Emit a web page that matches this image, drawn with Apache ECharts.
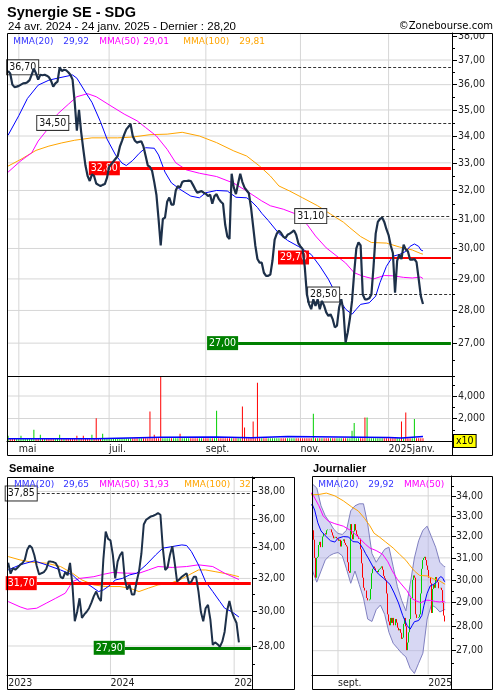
<!DOCTYPE html>
<html>
<head>
<meta charset="utf-8">
<script src="https://cdn.jsdelivr.net/npm/echarts@6.0.0/dist/echarts.min.js"></script>
<style>html,body{margin:0;padding:0;background:#fff;}#chart{width:500px;height:700px;}</style>
</head>
<body>
<div id="chart"></div>
<script>
// ================= DATA =================
const HOLIDAYS = ['2024-05-01','2024-12-25','2024-12-26','2025-01-01'];

// daily closes 24 avr. 2024 -> 24 janv. 2025 (194 sessions)
const closes = [
36.55,36.45,36.0,35.9,35.92,35.95,36.0,36.05,36.06,36.1,
36.18,36.4,36.65,36.45,36.2,36.4,36.38,36.4,36.36,36.3,
36.15,35.92,36.05,36.12,36.7,36.55,36.6,36.58,36.5,36.4,
36.2,35.3,34.2,35.0,34.15,33.5,32.9,32.52,32.34,32.58,
32.52,32.25,32.2,32.16,32.2,32.23,32.45,32.85,32.95,33.05,
33.15,33.25,33.6,33.82,34.05,34.25,34.35,34.45,34.0,33.82,
33.75,33.78,33.8,33.6,33.25,32.9,32.85,32.7,32.3,31.85,
31.0,30.1,31.0,31.05,31.6,31.75,31.5,31.5,32.0,32.16,
32.1,32.3,32.34,32.34,32.35,32.34,32.2,32.05,31.92,31.95,
31.98,31.92,31.88,31.8,31.85,31.53,31.8,31.87,31.7,31.6,
31.53,30.8,30.4,30.32,32.6,32.1,31.87,32.25,32.6,32.3,
32.1,32.0,31.9,31.4,30.75,30.1,29.65,29.53,29.53,29.2,
29.1,29.1,29.14,29.6,30.3,30.5,30.6,30.52,30.4,30.35,
30.46,30.5,30.55,30.61,30.46,30.18,30.07,29.98,29.4,28.5,
28.2,28.04,28.35,28.14,28.35,28.04,28.3,28.15,27.94,27.83,
27.88,27.73,27.48,27.53,28.1,28.35,28.0,27.02,27.33,27.75,
28.3,29.2,30.0,30.2,30.1,28.5,28.35,28.35,28.38,28.5,
29.4,30.5,30.9,31.0,31.05,30.9,30.65,30.45,30.1,29.85,
28.56,29.6,29.8,29.65,30.13,29.96,29.9,29.63,29.63,29.65,
29.55,29.0,28.45,28.2];

// moving averages: [session index, value]
const mma20 = [[0,34.03],[5,34.78],[9,35.45],[14,35.98],[19,36.18],[23,36.26],[30,36.39],[32,36.26],[36,35.7],[39,35.3],[43,34.54],[46,33.89],[50,33.29],[53,32.99],[55,32.9],[58,33.09],[61,33.35],[64,33.56],[68,33.54],[70,33.29],[73,32.66],[76,32.27],[80,32.04],[85,31.8],[89,31.74],[92,31.92],[97,32.0],[102,31.98],[106,31.76],[111,31.74],[113,31.63],[116,31.4],[118,31.2],[121,30.95],[126,30.5],[130,30.27],[135,30.07],[141,29.8],[145,29.42],[149,28.99],[153,28.45],[157,28.04],[160,27.88],[162,28.04],[164,28.19],[168,28.24],[171,28.45],[173,28.88],[176,29.41],[179,29.74],[182,29.8],[185,29.9],[187,30.07],[189,30.15],[191,30.07],[192,29.95],[193,29.92]];
const mma50 = [[0,32.66],[6,33.08],[11,33.37],[14,33.81],[19,34.32],[23,34.84],[28,35.22],[32,35.52],[37,35.64],[41,35.52],[47,35.2],[54,34.84],[60,34.58],[64,34.32],[69,34.0],[74,33.5],[78,33.0],[83,32.74],[89,32.62],[97,32.5],[105,32.26],[111,31.98],[118,31.63],[122,31.46],[128,31.34],[134,31.17],[139,30.82],[143,30.42],[148,30.02],[157,29.52],[161,29.2],[165,29.09],[170,29.0],[175,29.11],[179,29.1],[184,29.05],[188,29.03],[192,29.06],[193,29.01]];
const mma100 = [[0,32.88],[6,33.13],[13,33.46],[19,33.62],[25,33.74],[31,33.84],[39,33.93],[51,33.93],[58,33.96],[66,34.05],[74,34.07],[81,34.14],[89,34.0],[97,33.75],[105,33.44],[111,33.25],[117,32.88],[122,32.52],[126,32.16],[131,31.98],[137,31.74],[144,31.46],[150,31.17],[156,30.89],[159,30.7],[164,30.4],[169,30.2],[176,30.18],[182,30.05],[188,29.95],[192,29.83],[193,29.81]];

// volumes (x10)
const volumes = [
470,250,250,250,250,250,470,250,250,250,
250,250,1000,250,250,560,250,250,250,250,
250,250,250,250,560,250,250,250,250,250,
250,250,470,250,250,470,250,250,250,560,
250,2030,250,250,650,250,250,250,250,250,
250,250,250,250,250,250,250,250,250,250,
250,250,250,250,250,250,2620,250,560,250,
250,6300,250,250,250,250,250,250,250,250,
650,250,250,250,250,250,250,250,250,250,
250,250,250,250,250,250,250,2680,250,250,
250,250,250,250,250,250,250,250,250,3060,
1200,250,250,250,1730,250,5190,250,250,250,
250,250,250,250,250,250,250,250,250,250,
250,250,250,250,250,250,250,250,250,250,
250,250,2420,250,250,250,250,250,250,250,
250,250,250,250,250,250,250,250,250,250,
910,1590,250,250,250,250,2090,2090,250,250,
250,250,250,250,250,250,250,250,250,250,
250,250,250,1730,250,2530,250,250,250,1950,
250,250,250,250];
const volAvg = [[0,200],[41,330],[71,360],[97,280],[113,400],[130,320],[177,270],[183,400],[193,400]];

// horizontal levels (main chart)
const mainLevels = [36.70, 34.50, 32.80, 31.10, 29.70, 28.50, 27.00];
const mainLevelKinds = ['dash','dash','red','dash','redThin','dash','green'];

// weekly chart
const weeklyCloses = [
33.0,32.3,32.65,32.55,32.7,32.87,32.98,33.2,33.86,34.15,
34.0,33.5,32.8,32.25,32.33,32.4,32.6,33.08,33.08,33.05,
32.98,32.7,32.1,32.0,32.4,32.2,33.0,31.6,29.4,29.96,
30.77,29.6,29.8,29.96,30.17,30.5,30.9,31.18,30.8,30.6,
33.2,35.1,34.6,34.5,33.52,32.0,33.08,33.5,33.73,32.0,
31.3,31.6,31.0,31.0,31.79,32.45,33.6,35.6,35.93,36.05,
36.17,36.22,36.3,36.41,36.29,34.0,32.54,32.7,33.52,34.1,
33.0,31.8,31.95,32.1,32.22,32.33,31.7,31.79,32.1,32.1,
31.18,29.96,29.4,30.17,30.37,29.5,28.06,28.2,28.1,27.96,
28.24,28.8,30.0,30.6,29.96,29.6,29.3,28.2];
const wMma20 = [[0,32.54],[5,32.87],[11,33.13],[16,32.87],[22,32.54],[27,32.22],[30,31.79],[34,31.59],[38,31.18],[40,31.28],[43,31.59],[45,31.9],[48,32.0],[51,32.22],[54,32.33],[58,32.87],[62,33.52],[65,33.97],[69,34.08],[73,34.19],[75,34.15],[77,33.75],[80,32.87],[83,31.79],[86,31.18],[89,30.57],[91,30.17],[94,29.96],[97,29.65]];
const wMma50 = [[0,30.57],[5,30.25],[8,30.11],[12,30.17],[16,30.47],[20,30.77],[24,31.08],[27,31.79],[30,32.0],[36,32.11],[40,32.26],[44,32.38],[50,32.33],[55,32.33],[59,32.54],[63,32.76],[69,32.7],[75,32.76],[80,32.87],[86,32.76],[91,32.33],[97,31.93]];
const wMma100 = [[0,33.41],[5,33.19],[10,33.04],[16,32.98],[22,32.76],[27,32.33],[31,31.9],[36,31.59],[41,31.49],[47,31.49],[51,31.39],[55,31.18],[59,31.39],[63,31.59],[68,31.69],[72,31.9],[76,32.22],[80,32.54],[83,32.54],[87,32.43],[93,32.26],[97,32.11]];
const weeklyLevels = [37.85, 31.70, 27.90];
const weeklyLevelKinds = ['dash','red','green'];

// daily panel: Bollinger band [session index, value]
const bbUpper = [[68,34.6],[72,34.4],[76,33.5],[80,33.0],[84,32.7],[88,32.35],[92,32.15],[96,32.1],[100,32.3],[104,33.25],[108,33.5],[112,33.6],[116,33.6],[120,32.6],[124,31.2],[128,30.8],[132,31.1],[136,31.4],[140,31.5],[144,30.6],[148,29.7],[152,29.1],[156,28.65],[160,29.8],[164,31.0],[168,31.8],[172,32.3],[176,32.5],[180,32.0],[184,31.5],[188,30.8],[192,30.6],[193,30.6]];
const bbLower = [[68,30.4],[72,29.9],[76,30.4],[80,30.9],[84,31.1],[88,31.2],[92,31.25],[96,31.1],[100,30.5],[104,29.85],[108,30.4],[112,29.8],[116,29.2],[120,28.3],[124,28.2],[128,28.7],[132,28.9],[136,28.5],[140,27.75],[144,27.3],[148,27.1],[152,26.9],[156,26.75],[160,26.3],[164,26.1],[168,26.5],[172,26.9],[176,28.3],[180,28.9],[184,28.8],[188,28.6],[192,28.7],[193,28.7]];

// tick labels
const mainPriceTicks = [27,28,29,30,31,32,33,34,35,36,37,38];
const mainPriceMinor = [26.5,27.5,28.5,29.5,30.5,31.5,32.5,33.5,34.5,35.5,36.5,37.5];
const volTicks = [2000,4000];
const weeklyPriceTicks = [28,30,32,34,36,38];
const weeklyPriceMinor = [27,29,31,33,35,37,39];
const dailyPriceTicks = [27,28,29,30,31,32,33,34];
const dailyPriceMinor = [26.5,27.5,28.5,29.5,30.5,31.5,32.5,33.5,34.5];
const mainTickDates = ['2024-05-02','2024-07-01','2024-09-02','2024-11-01','2025-01-02'];
const mainTickLabels = ['mai','juil.','sept.','nov.','2025janv.'];
const weeklyTickDates = ['2023-03-13','2024-01-08','2025-01-06'];
const weeklyTickLabels = ['2023','2024','2025'];
const dailyTickDates = ['2024-09-02','2025-01-02'];
const dailyTickLabels = ['sept.','2025'];

// ================= BUILD =================
function tradingDays(start, count){
  const out=[]; const d=new Date(start+'T00:00:00Z');
  while(out.length<count){
    const wd=d.getUTCDay(); const s=d.toISOString().slice(0,10);
    if(wd!==0 && wd!==6 && HOLIDAYS.indexOf(s)<0) out.push(s);
    d.setUTCDate(d.getUTCDate()+1);
  }
  return out;
}
function weekStarts(start, count){
  const out=[]; const d=new Date(start+'T00:00:00Z');
  for(let i=0;i<count;i++){ out.push(d.toISOString().slice(0,10)); d.setUTCDate(d.getUTCDate()+7); }
  return out;
}
const dailyCats = tradingDays('2024-04-24', 207);
const weeklyCats = weekStarts('2023-03-13', 103);

const fmtP = v => Number(v).toFixed(2).replace('.', ',');
const FONT_AX = "'DejaVu Sans Condensed','Liberation Sans',sans-serif";
const FONT_LG = "'DejaVu Sans',sans-serif";
const FONT_TT = "'Liberation Sans',Arial,sans-serif";
const COL = {price:'#1d3049', ma20:'#0000ff', ma50:'#ff00ff', ma100:'#ffa500', grid:'#d6d6d6', text:'#222', up:'#00d000', down:'#ff0000'};

const mainLevelStart = [13.8, 27.7, 51.6, 147.9, 139.5, 153.5, 106.6];
const mainLevelEnd = 206;
const weeklyLevelStart = [12.3, 12.3, 49.2];
const weeklyLevelEnd = 102;
const DAILY_FROM = 68, DAILY_TO = 198;

const KIND = {
  dash:{line:{color:'#333', type:[3,2], width:1}, label:{backgroundColor:'#fff', borderColor:'#333', borderWidth:1, color:'#111'}},
  red:{line:{color:'#ff0000', width:3, type:'solid'}, label:{backgroundColor:'#ff0000', color:'#fff'}},
  redThin:{line:{color:'#ff0000', width:2, type:'solid'}, label:{backgroundColor:'#ff0000', color:'#fff'}},
  green:{line:{color:'#008000', width:3, type:'solid'}, label:{backgroundColor:'#008000', color:'#fff'}}
};
function levelLines(vals, kinds, starts, end){
  return vals.map((v,i)=>{
    const k = KIND[kinds[i]];
    return [{coord:[starts[i], v], lineStyle:k.line,
      label:Object.assign({show:true, position:'start', distance:0, formatter:fmtP(v), fontSize:10.5, fontFamily:FONT_AX, padding:[2,2,1,2], lineHeight:11}, k.label)},
      {coord:[end, v]}];
  });
}
function dummy(xi, yi, z, markLine){
  return {type:'line', xAxisIndex:xi, yAxisIndex:yi, data:[], z:z, silent:true, markLine:markLine};
}
function line(xi, yi, data, color, width, z){
  return {type:'line', xAxisIndex:xi, yAxisIndex:yi, data:data, showSymbol:false, symbol:'none',
    lineStyle:{color:color, width:width}, itemStyle:{color:color}, z:z||2, silent:true, clip:true, connectNulls:true};
}
// grid lines: one two-point line series per tick, placed through the axes
function gridSeries(xi, yi, yTicks, xFrom, xTo, yLo, yHi, cats, tickDates){
  const out = yTicks.map(v=>line(xi, yi, [[xFrom, v],[xTo, v]], COL.grid, 1, 1));
  tickDates.forEach(t=>{ const k = cats.indexOf(t); if(k>0) out.push(line(xi, yi, [[k-0.5, yLo],[k-0.5, yHi]], COL.grid, 1, 1)); });
  return out;
}
function catX(grid, cats, tickDates, tickLabels, showLabels){
  return {gridIndex:grid, type:'category', data:cats, boundaryGap:true,
    axisLine:{show:showLabels, lineStyle:{color:'#000'}}, axisTick:{show:false},
    axisLabel:{show:showLabels, interval:(i,v)=>tickDates.indexOf(v)>=0,
      formatter:v=>{const k=tickDates.indexOf(v); return k>=0?tickLabels[k]:'';},
      align:'left', color:COL.text, fontSize:10.5, fontFamily:FONT_AX, margin:3},
    splitLine:{show:false}};
}
function logY(grid, min, max, ticks, margin){
  return {gridIndex:grid, type:'log', min:min, max:max, position:'right',
    axisLine:{show:true, lineStyle:{color:'#000'}},
    axisTick:{show:true, customValues:ticks, length:5, lineStyle:{color:'#000'}},
    axisLabel:{show:true, customValues:ticks, formatter:v=>fmtP(v), color:COL.text, fontSize:10.5, fontFamily:FONT_AX, margin:margin},
    splitLine:{show:false}};
}
function logYMinor(grid, min, max, ticks){
  return {gridIndex:grid, type:'log', min:min, max:max, position:'right',
    axisLine:{show:false}, axisTick:{show:true, customValues:ticks, length:3, lineStyle:{color:'#000'}},
    axisLabel:{show:false}, splitLine:{show:false}};
}

const candles = closes.map((c,i)=>{ const o = i>0?closes[i-1]:c; return [o, c, Math.min(o,c), Math.max(o,c)]; });
const volData = volumes.map((v,i)=>({value:v, itemStyle:{color:(i===0||closes[i]>=closes[i-1])?COL.up:COL.down}}));

const option = {
  animation:false,
  backgroundColor:'#fff',
  grid:[
    {left:7, top:33, width:445, height:343},
    {left:7, top:376, width:445, height:65},
    {left:7, top:477, width:245, height:198},
    {left:312, top:476, width:139, height:199}
  ],
  xAxis:[
    catX(0, dailyCats, mainTickDates, mainTickLabels, false),
    catX(1, dailyCats, mainTickDates, mainTickLabels, true),
    catX(2, weeklyCats, weeklyTickDates, weeklyTickLabels, true),
    Object.assign(catX(3, dailyCats, dailyTickDates, dailyTickLabels, true), {min:DAILY_FROM, max:DAILY_TO})
  ],
  yAxis:[
    logY(0, 26.03, 38.13, mainPriceTicks, 6),
    logYMinor(0, 26.03, 38.13, mainPriceMinor),
    {gridIndex:1, type:'value', min:0, max:5780, interval:2000, position:'right',
      axisLine:{show:true, lineStyle:{color:'#000'}}, axisTick:{show:true, length:5, lineStyle:{color:'#000'}},
      axisLabel:{showMinLabel:false, showMaxLabel:false, color:COL.text, fontSize:10.5, fontFamily:FONT_AX, margin:6},
      splitLine:{show:false}},
    {gridIndex:1, type:'value', min:0, max:5780, interval:1000, position:'right',
      axisLine:{show:false}, axisTick:{show:true, length:3, lineStyle:{color:'#000'}}, axisLabel:{show:false}, splitLine:{show:false}},
    logY(2, 26.44, 39.1, weeklyPriceTicks, 6),
    logYMinor(2, 26.44, 39.1, weeklyPriceMinor),
    logY(3, 26.04, 35.02, dailyPriceTicks, 5),
    logYMinor(3, 26.04, 35.02, dailyPriceMinor)
  ],
  series:[].concat(
    gridSeries(0,0,mainPriceTicks.filter(v=>v<38), 0, 206, 26.05, 38.1, dailyCats, mainTickDates),
    gridSeries(1,2,volTicks, 0, 206, 1, 5770, dailyCats, mainTickDates),
    gridSeries(2,4,weeklyPriceTicks, 0, 102, 26.46, 39.05, weeklyCats, weeklyTickDates),
    gridSeries(3,6,dailyPriceTicks, DAILY_FROM, DAILY_TO, 26.06, 35.0, dailyCats, dailyTickDates),
  [
    // main price pane
    line(0,0,mma100,COL.ma100,1,3),
    line(0,0,mma50,COL.ma50,1,3),
    line(0,0,mma20,COL.ma20,1,3),
    line(0,0,closes,COL.price,2.2,5),
    dummy(0,0,10,{silent:true, symbol:['none','none'], animation:false, data:levelLines(mainLevels, mainLevelKinds, mainLevelStart, mainLevelEnd)}),
    // volume pane
    {type:'bar', xAxisIndex:1, yAxisIndex:2, data:volData, barWidth:1, silent:true, z:3},
    Object.assign(line(1,2,volAvg,'#0000ff',1.5,4), {step:'end'}),
    // weekly
    line(2,4,wMma100,COL.ma100,1,3),
    line(2,4,wMma50,COL.ma50,1,3),
    line(2,4,wMma20,COL.ma20,1,3),
    line(2,4,weeklyCloses,COL.price,2,5),
    dummy(2,4,10,{silent:true, symbol:['none','none'], animation:false, data:levelLines(weeklyLevels, weeklyLevelKinds, weeklyLevelStart, weeklyLevelEnd)}),
    // daily
    {type:'custom', xAxisIndex:3, yAxisIndex:6, clip:true, silent:true, z:2, data:[[DAILY_FROM, 30]],
      renderItem:(params, api)=>{
        const pts = bbUpper.map(p=>api.coord(p)).concat(bbLower.slice().reverse().map(p=>api.coord(p)));
        return {type:'polygon', shape:{points:pts}, style:{fill:'rgba(176,176,232,0.5)'}};
      }},
    line(3,6,bbUpper,'#8080c0',1,3),
    line(3,6,bbLower,'#8080c0',1,3),
    {type:'candlestick', xAxisIndex:3, yAxisIndex:6, data:candles, barWidth:1, clip:true, silent:true, z:4,
      itemStyle:{color:COL.up, color0:COL.down, borderColor:COL.up, borderColor0:COL.down, borderWidth:1}},
    line(3,6,mma100,COL.ma100,1,5),
    line(3,6,mma50,COL.ma50,1,5),
    line(3,6,mma20,COL.ma20,1,5)
  ]),
  graphic:[
    {type:'rect', z:50, shape:{x:453, y:26, width:40, height:7}, style:{fill:'#fff'}},
    {type:'rect', z:50, shape:{x:253, y:676, width:41, height:13}, style:{fill:'#fff'}},
    {type:'rect', z:50, shape:{x:452, y:676, width:40, height:13}, style:{fill:'#fff'}},
    {type:'rect', z:60, shape:{x:7.5, y:33.5, width:485, height:422}, style:{fill:'none', stroke:'#000', lineWidth:1}},
    {type:'line', z:60, shape:{x1:7, y1:376.5, x2:452, y2:376.5}, style:{stroke:'#000', lineWidth:1}},
    {type:'line', z:60, shape:{x1:452.5, y1:441, x2:452.5, y2:456}, style:{stroke:'#000', lineWidth:1}},
    {type:'rect', z:60, shape:{x:7.5, y:477.5, width:287, height:212}, style:{fill:'none', stroke:'#000', lineWidth:1}},
    {type:'line', z:60, shape:{x1:252.5, y1:675, x2:252.5, y2:690}, style:{stroke:'#000', lineWidth:1}},
    {type:'rect', z:60, shape:{x:312.5, y:476.5, width:180, height:213}, style:{fill:'none', stroke:'#000', lineWidth:1}},
    {type:'line', z:60, shape:{x1:451.5, y1:675, x2:451.5, y2:690}, style:{stroke:'#000', lineWidth:1}},
    {type:'text', z:70, x:7, y:12.5, style:{text:'Synergie SE - SDG', fill:'#000', fontSize:14.5, fontWeight:'bold', fontFamily:FONT_TT, align:'left', verticalAlign:'middle'}},
    {type:'text', z:70, x:8, y:27, style:{text:'24 avr. 2024 - 24 janv. 2025 - Dernier : 28,20', fill:'#000', fontSize:11.5, fontFamily:FONT_TT, align:'left', verticalAlign:'middle'}},
    {type:'text', z:70, x:493, y:26.5, style:{text:'©Zonebourse.com', fill:'#000', fontSize:10, fontFamily:FONT_LG, align:'right', verticalAlign:'middle'}},
    {type:'text', z:70, x:9, y:469, style:{text:'Semaine', fill:'#000', fontSize:11, fontWeight:'bold', fontFamily:FONT_TT, align:'left', verticalAlign:'middle'}},
    {type:'text', z:70, x:313, y:469, style:{text:'Journalier', fill:'#000', fontSize:11, fontWeight:'bold', fontFamily:FONT_TT, align:'left', verticalAlign:'middle'}},
    {type:'text', z:70, x:13.3, y:42, style:{text:'MMA(20)', fill:'#3333ff', fontSize:9, fontFamily:FONT_LG, verticalAlign:'middle'}},
    {type:'text', z:70, x:63.3, y:42, style:{text:'29,92', fill:'#3333ff', fontSize:9, fontFamily:FONT_LG, verticalAlign:'middle'}},
    {type:'text', z:70, x:99.3, y:42, style:{text:'MMA(50)', fill:'#ff00ff', fontSize:9, fontFamily:FONT_LG, verticalAlign:'middle'}},
    {type:'text', z:70, x:143.3, y:42, style:{text:'29,01', fill:'#ff00ff', fontSize:9, fontFamily:FONT_LG, verticalAlign:'middle'}},
    {type:'text', z:70, x:183.3, y:42, style:{text:'MMA(100)', fill:'#ffa500', fontSize:9, fontFamily:FONT_LG, verticalAlign:'middle'}},
    {type:'text', z:70, x:239.3, y:42, style:{text:'29,81', fill:'#ffa500', fontSize:9, fontFamily:FONT_LG, verticalAlign:'middle'}},
    {type:'text', z:70, x:14, y:485, style:{text:'MMA(20)', fill:'#3333ff', fontSize:9, fontFamily:FONT_LG, verticalAlign:'middle'}},
    {type:'text', z:70, x:63.3, y:485, style:{text:'29,65', fill:'#3333ff', fontSize:9, fontFamily:FONT_LG, verticalAlign:'middle'}},
    {type:'text', z:70, x:99.3, y:485, style:{text:'MMA(50)', fill:'#ff00ff', fontSize:9, fontFamily:FONT_LG, verticalAlign:'middle'}},
    {type:'text', z:70, x:143.3, y:485, style:{text:'31,93', fill:'#ff00ff', fontSize:9, fontFamily:FONT_LG, verticalAlign:'middle'}},
    {type:'text', z:70, x:184.3, y:485, style:{text:'MMA(100)', fill:'#ffa500', fontSize:9, fontFamily:FONT_LG, verticalAlign:'middle'}},
    {type:'text', z:70, x:239.3, y:485, style:{text:'32', fill:'#ffa500', fontSize:9, fontFamily:FONT_LG, verticalAlign:'middle'}},
    {type:'text', z:70, x:318.3, y:485, style:{text:'MMA(20)', fill:'#3333ff', fontSize:9, fontFamily:FONT_LG, verticalAlign:'middle'}},
    {type:'text', z:70, x:368.3, y:485, style:{text:'29,92', fill:'#3333ff', fontSize:9, fontFamily:FONT_LG, verticalAlign:'middle'}},
    {type:'text', z:70, x:404, y:485, style:{text:'MMA(50)', fill:'#ff00ff', fontSize:9, fontFamily:FONT_LG, verticalAlign:'middle'}},
    {type:'text', z:70, x:454, y:441, style:{text:'x10', fill:'#000', fontSize:10.5, fontFamily:FONT_AX, verticalAlign:'middle', backgroundColor:'#ffff00', borderColor:'#000', borderWidth:1, padding:[1,2,0,2]}}
  ]
};

const chart = echarts.init(document.getElementById('chart'), null, {renderer:'canvas', width:500, height:700});
chart.setOption(option);
</script>
</body>
</html>
